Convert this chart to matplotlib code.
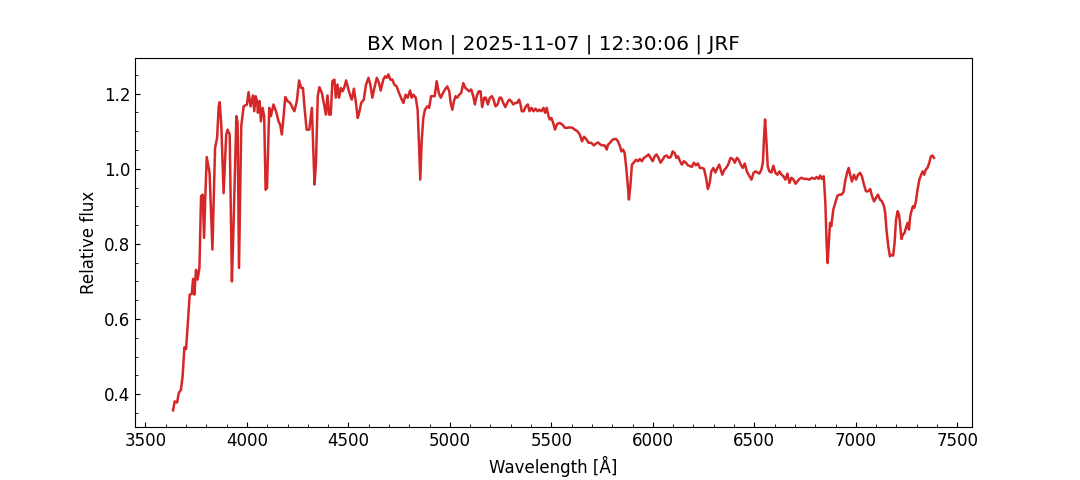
import matplotlib
matplotlib.use("Agg")
import numpy as np
import matplotlib.pyplot as plt
from matplotlib.ticker import AutoMinorLocator

plt.rcParams["font.size"] = 12

title = "BX Mon | 2025-11-07 | 12:30:06 | JRF"

# wavelength [A] and relative flux
wavelength = [
    3636, 3644, 3656, 3664, 3675, 3683, 3692, 3700, 3710, 3718, 3728, 3735, 3741, 3749, 3757, 3766,
    3774, 3782, 3789, 3795, 3802, 3816, 3830, 3843, 3853, 3861, 3866, 3874, 3885, 3898, 3905, 3915,
    3926, 3934, 3948, 3954, 3961, 3972, 3984, 4000, 4008, 4018, 4030, 4036, 4043, 4050, 4054, 4062,
    4069, 4077, 4085, 4092, 4099, 4110, 4118, 4131, 4143, 4156, 4164, 4172, 4180, 4189, 4200,
    4213, 4225, 4234, 4246, 4257, 4267, 4276, 4284, 4294, 4307, 4320, 4333, 4340, 4349, 4357,
    4369, 4380, 4389, 4397, 4405, 4413, 4421, 4431, 4438, 4446, 4454, 4463, 4471, 4479, 4489, 4500,
    4510, 4517, 4527, 4536, 4546, 4553, 4563, 4576, 4586, 4599, 4608, 4618, 4628, 4640, 4651, 4659,
    4672, 4681, 4689, 4697, 4707, 4717, 4726, 4738, 4749, 4763, 4771, 4782, 4792, 4804, 4812, 4820,
    4832, 4841, 4848, 4854, 4861, 4869, 4877, 4889, 4898, 4907,
    4925, 4935, 4945, 4955, 4964, 4976, 4987, 4997, 5004, 5012, 5020, 5028, 5036, 5046, 5056, 5066,
    5076, 5085, 5095, 5105, 5115, 5123, 5132, 5142, 5151, 5159, 5169, 5177, 5187, 5197, 5207, 5215,
    5225, 5235, 5245, 5253, 5263, 5273, 5282, 5292, 5302, 5312, 5322, 5331, 5341, 5348, 5354, 5364,
    5374, 5384, 5392, 5402, 5412, 5422, 5432, 5441, 5451, 5461, 5469, 5477, 5486, 5492, 5500, 5509,
    5518, 5528, 5541, 5555, 5566, 5579, 5591, 5604,
    5615, 5628, 5640, 5651, 5661, 5673, 5684, 5697, 5709, 5720, 5730, 5742, 5753, 5763, 5773, 5779,
    5789, 5799, 5809, 5819, 5828, 5838, 5845, 5853, 5861, 5869, 5877, 5882, 5889, 5897, 5907, 5917,
    5927, 5936, 5946, 5956, 5968, 5979, 5989, 5999, 6009, 6018, 6028, 6038, 6048, 6058, 6068, 6078,
    6088, 6098, 6107, 6116, 6124, 6134, 6143, 6153, 6163, 6173, 6183, 6192, 6202, 6212, 6222, 6232,
    6242, 6252, 6262, 6271, 6280, 6288, 6298, 6308, 6318, 6327,
    6342, 6353, 6361, 6371, 6383, 6394, 6404, 6414, 6423, 6433, 6443, 6453, 6463, 6476, 6486, 6496,
    6506, 6515, 6525, 6535, 6542, 6548, 6553, 6560, 6566, 6574, 6584, 6594, 6604, 6614, 6624, 6634,
    6643, 6653, 6663, 6673, 6683, 6693, 6703, 6712, 6722, 6732, 6745, 6758, 6771, 6784, 6797, 6807,
    6817, 6825, 6833, 6842, 6850, 6856, 6861, 6866, 6873, 6879, 6889, 6899, 6909, 6919, 6929, 6939,
    6949, 6959, 6965, 6972, 6981, 6991, 7001, 7011, 7021,
    7030, 7040, 7050, 7061, 7071, 7080, 7090, 7099, 7109, 7119, 7129, 7139, 7145, 7151, 7160, 7168,
    7176, 7184, 7191, 7198, 7206, 7213, 7219, 7225, 7232, 7240, 7248, 7255, 7262, 7268, 7274, 7281,
    7288, 7296, 7304, 7313, 7322, 7329, 7337, 7345, 7353, 7362, 7370, 7378, 7385,
]
flux = [
    0.357, 0.381, 0.378, 0.403, 0.412, 0.447, 0.525, 0.520, 0.598, 0.665, 0.667, 0.707, 0.665, 0.731, 0.705, 0.736,
    0.927, 0.931, 0.816, 0.927, 1.031, 0.989, 0.785, 1.055, 1.082, 1.166, 1.177, 1.113, 0.935, 1.091, 1.104, 1.091,
    0.700, 0.847, 1.140, 1.122, 0.736, 1.113, 1.166, 1.171, 1.204, 1.166, 1.195, 1.153, 1.193, 1.180, 1.149, 1.180,
    1.126, 1.162, 1.140, 0.944, 0.949, 1.162, 1.140, 1.171, 1.153, 1.126, 1.117, 1.091, 1.135, 1.191, 1.180,
    1.175, 1.162, 1.153, 1.180, 1.235, 1.215, 1.215, 1.162, 1.104, 1.104, 1.162, 0.958, 1.011, 1.193, 1.217,
    1.202, 1.171, 1.144, 1.195, 1.144, 1.144, 1.233, 1.237, 1.189, 1.224, 1.189, 1.215, 1.206, 1.215, 1.235, 1.211,
    1.193, 1.184, 1.213, 1.180, 1.135, 1.149, 1.175, 1.184, 1.222, 1.242, 1.224, 1.189, 1.215, 1.242, 1.228, 1.208,
    1.237, 1.246, 1.242, 1.251, 1.237, 1.237, 1.224, 1.219, 1.202, 1.184, 1.175, 1.197, 1.189, 1.208, 1.189, 1.197,
    1.189, 1.157, 1.064, 0.971, 1.073, 1.135, 1.157, 1.166, 1.162, 1.193,
    1.193, 1.233, 1.202, 1.189, 1.199, 1.211, 1.219, 1.206, 1.175, 1.157, 1.180, 1.193, 1.189, 1.197, 1.202, 1.228,
    1.215, 1.211, 1.206, 1.211, 1.193, 1.171, 1.193, 1.206, 1.206, 1.164, 1.189, 1.189, 1.171, 1.189, 1.193, 1.184,
    1.166, 1.171, 1.189, 1.189, 1.175, 1.164, 1.175, 1.184, 1.180, 1.171, 1.175, 1.175, 1.184, 1.171, 1.153, 1.153,
    1.166, 1.171, 1.153, 1.162, 1.153, 1.160, 1.153, 1.157, 1.153, 1.162, 1.149, 1.162, 1.140, 1.131, 1.135, 1.122,
    1.104, 1.119, 1.122, 1.117, 1.109, 1.109, 1.110, 1.109,
    1.104, 1.100, 1.091, 1.073, 1.085, 1.078, 1.069, 1.069, 1.062, 1.067, 1.070, 1.064, 1.062, 1.062, 1.051, 1.064,
    1.069, 1.076, 1.079, 1.079, 1.073, 1.060, 1.046, 1.051, 1.042, 1.002, 0.953, 0.918, 0.953, 1.011, 1.017, 1.024,
    1.020, 1.026, 1.020, 1.029, 1.033, 1.038, 1.029, 1.020, 1.033, 1.038, 1.029, 1.016, 1.024, 1.033, 1.035, 1.029,
    1.031, 1.046, 1.042, 1.029, 1.033, 1.020, 1.011, 1.020, 1.016, 1.009, 1.007, 1.005, 1.016, 1.009, 1.014, 1.002,
    1.002, 1.000, 0.976, 0.946, 0.962, 0.993, 1.002, 0.990, 1.002, 1.011,
    0.984, 0.998, 1.002, 1.011, 1.029, 1.026, 1.016, 1.029, 1.024, 1.011, 1.002, 1.014, 0.993, 0.980, 0.971, 0.989,
    0.993, 0.990, 0.987, 0.998, 1.016, 1.086, 1.131, 1.069, 1.006, 0.993, 0.990, 1.008, 0.989, 0.984, 0.993, 0.984,
    0.980, 0.971, 0.987, 0.962, 0.976, 0.971, 0.960, 0.966, 0.973, 0.976, 0.973, 0.973, 0.971, 0.976, 0.973, 0.978,
    0.973, 0.982, 0.973, 0.980, 0.909, 0.802, 0.749, 0.793, 0.856, 0.847, 0.891, 0.909, 0.928, 0.931, 0.931, 0.937,
    0.971, 0.993, 1.002, 0.984, 0.966, 0.984, 0.971, 0.984, 0.989,
    0.980, 0.958, 0.940, 0.940, 0.946, 0.927, 0.913, 0.922, 0.931, 0.918, 0.913, 0.900, 0.882, 0.838, 0.793, 0.767,
    0.771, 0.769, 0.802, 0.864, 0.887, 0.878, 0.847, 0.813, 0.825, 0.829, 0.845, 0.856, 0.838, 0.873, 0.887, 0.900,
    0.896, 0.913, 0.944, 0.971, 0.984, 0.993, 0.984, 0.998, 1.002, 1.016, 1.033, 1.035, 1.029,
]

wavelength = np.array(wavelength)
flux = np.array(flux)

fig, ax = plt.subplots(figsize=(10.8, 4.8), dpi=100)
ax.plot(wavelength, flux, color="#d62728", lw=1.8)

ax.set_title(title)
ax.set_xlabel("Wavelength [Å]")
ax.set_ylabel("Relative flux")
ax.xaxis.set_minor_locator(AutoMinorLocator(5))
ax.yaxis.set_minor_locator(AutoMinorLocator(4))
ax.tick_params(which="both", direction="in")

fig.savefig("out.png")
